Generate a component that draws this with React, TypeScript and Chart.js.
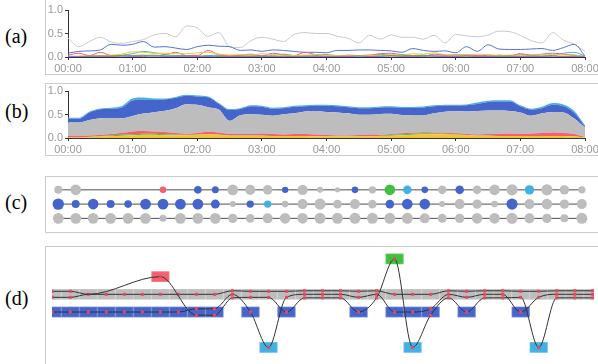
import React, { useEffect, useRef } from "react";
import { Chart, registerables } from "chart.js";
Chart.register(...registerables);

// ---------------- data ----------------
// time grid (minutes after 00:00)
const TIMES = [0, 10, 20, 30, 40, 50, 60, 70, 80, 90, 100, 110, 120, 130, 140, 150, 160, 170, 180, 190, 200, 210, 220, 230, 240, 250, 260, 270, 280, 290, 300, 310, 320, 330, 340, 350, 360, 370, 380, 390, 400, 410, 420, 430, 440, 450, 460, 470, 480];
const TIME_TICKS = [0, 60, 120, 180, 240, 300, 360, 420, 480];
const VALUE_TICKS = [0, 0.5, 1];

// (a) individual series
const A_GRAY = [0.40, 0.22, 0.33, 0.42, 0.32, 0.29, 0.33, 0.37, 0.47, 0.50, 0.43, 0.66, 0.62, 0.44, 0.52, 0.22, 0.20, 0.35, 0.42, 0.38, 0.33, 0.48, 0.52, 0.50, 0.50, 0.44, 0.40, 0.30, 0.46, 0.38, 0.47, 0.42, 0.42, 0.38, 0.46, 0.30, 0.48, 0.45, 0.43, 0.47, 0.55, 0.54, 0.46, 0.35, 0.30, 0.52, 0.36, 0.27, 0.12];
const A_BLUE = [0.08, 0.12, 0.13, 0.15, 0.27, 0.25, 0.27, 0.33, 0.21, 0.22, 0.19, 0.16, 0.22, 0.25, 0.23, 0.22, 0.14, 0.15, 0.12, 0.15, 0.14, 0.12, 0.10, 0.10, 0.09, 0.14, 0.14, 0.15, 0.15, 0.14, 0.13, 0.10, 0.18, 0.14, 0.12, 0.13, 0.09, 0.22, 0.12, 0.26, 0.17, 0.16, 0.16, 0.17, 0.18, 0.14, 0.20, 0.27, 0.02];
const A_RED = [0.04, 0.08, 0.03, 0.10, 0.03, 0.02, 0.03, 0.04, 0.02, 0.04, 0.10, 0.03, 0.03, 0.14, 0.05, 0.03, 0.04, 0.06, 0.02, 0.08, 0.05, 0.03, 0.10, 0.05, 0.04, 0.02, 0.04, 0.03, 0.04, 0.07, 0.08, 0.05, 0.03, 0.02, 0.06, 0.04, 0.03, 0.05, 0.03, 0.02, 0.04, 0.03, 0.07, 0.04, 0.06, 0.08, 0.06, 0.04, 0.01];
const A_YELLOW = [0.01, 0.02, 0.02, 0.03, 0.04, 0.06, 0.11, 0.10, 0.08, 0.08, 0.07, 0.07, 0.09, 0.10, 0.06, 0.04, 0.05, 0.04, 0.07, 0.05, 0.04, 0.03, 0.04, 0.05, 0.03, 0.03, 0.02, 0.03, 0.04, 0.03, 0.05, 0.04, 0.07, 0.06, 0.09, 0.05, 0.04, 0.05, 0.06, 0.05, 0.03, 0.04, 0.03, 0.04, 0.05, 0.06, 0.04, 0.04, 0.01];
const A_LIGHTBLUE = [0.02, 0.01, 0.02, 0.03, 0.02, 0.04, 0.07, 0.12, 0.09, 0.05, 0.03, 0.03, 0.02, 0.03, 0.04, 0.02, 0.02, 0.03, 0.02, 0.03, 0.06, 0.03, 0.02, 0.03, 0.05, 0.03, 0.02, 0.03, 0.02, 0.06, 0.03, 0.02, 0.03, 0.04, 0.02, 0.03, 0.05, 0.03, 0.02, 0.04, 0.03, 0.02, 0.05, 0.03, 0.04, 0.03, 0.08, 0.10, 0.02];
const A_GREEN = [0.00, 0.01, 0.01, 0.02, 0.02, 0.03, 0.02, 0.03, 0.04, 0.02, 0.02, 0.01, 0.01, 0.02, 0.01, 0.01, 0.02, 0.01, 0.01, 0.01, 0.02, 0.01, 0.01, 0.02, 0.01, 0.01, 0.01, 0.02, 0.01, 0.02, 0.03, 0.04, 0.02, 0.03, 0.02, 0.01, 0.01, 0.02, 0.01, 0.01, 0.02, 0.01, 0.01, 0.02, 0.01, 0.02, 0.01, 0.02, 0.00];
const A_PURPLE = [0.01, 0.01, 0.02, 0.01, 0.01, 0.02, 0.01, 0.01, 0.02, 0.01, 0.01, 0.02, 0.01, 0.01, 0.02, 0.01, 0.01, 0.01, 0.02, 0.01, 0.01, 0.01, 0.02, 0.01, 0.01, 0.01, 0.01, 0.02, 0.01, 0.01, 0.02, 0.01, 0.01, 0.01, 0.02, 0.01, 0.01, 0.02, 0.01, 0.01, 0.01, 0.02, 0.01, 0.01, 0.01, 0.02, 0.01, 0.01, 0.00];

// (b) stacked layers (thickness of each layer)
const B_YELLOW = [0.01, 0.01, 0.02, 0.03, 0.04, 0.05, 0.06, 0.07, 0.07, 0.06, 0.06, 0.06, 0.07, 0.08, 0.07, 0.05, 0.05, 0.05, 0.05, 0.04, 0.04, 0.04, 0.04, 0.03, 0.03, 0.03, 0.03, 0.03, 0.03, 0.04, 0.05, 0.06, 0.07, 0.08, 0.08, 0.08, 0.07, 0.06, 0.05, 0.05, 0.04, 0.04, 0.04, 0.04, 0.04, 0.04, 0.04, 0.03, 0.01];
const B_GREEN = [0, 0, 0.005, 0.01, 0.015, 0.02, 0.02, 0.02, 0.02, 0.02, 0.015, 0.01, 0.005, 0.005, 0.005, 0.005, 0.005, 0.005, 0.005, 0.005, 0.005, 0.005, 0.005, 0.005, 0.005, 0.005, 0.005, 0.005, 0.005, 0.01, 0.015, 0.02, 0.02, 0.02, 0.015, 0.01, 0.01, 0.005, 0.005, 0.005, 0.005, 0.005, 0.005, 0.005, 0.005, 0.005, 0.005, 0.005, 0];
const B_RED = [0.03, 0.04, 0.03, 0.03, 0.03, 0.04, 0.06, 0.06, 0.05, 0.05, 0.03, 0.02, 0.03, 0.05, 0.04, 0.03, 0.03, 0.03, 0.04, 0.04, 0.03, 0.04, 0.04, 0.04, 0.03, 0.02, 0.02, 0.03, 0.04, 0.02, 0.02, 0.02, 0.02, 0.02, 0.02, 0.02, 0.02, 0.02, 0.02, 0.03, 0.04, 0.05, 0.04, 0.05, 0.06, 0.07, 0.06, 0.05, 0.01];
const B_GRAY = [0.29, 0.28, 0.33, 0.35, 0.34, 0.31, 0.33, 0.37, 0.41, 0.45, 0.53, 0.63, 0.60, 0.52, 0.49, 0.28, 0.40, 0.42, 0.40, 0.39, 0.43, 0.44, 0.48, 0.50, 0.49, 0.49, 0.47, 0.43, 0.42, 0.44, 0.43, 0.39, 0.37, 0.36, 0.41, 0.45, 0.47, 0.48, 0.50, 0.50, 0.50, 0.48, 0.46, 0.38, 0.42, 0.44, 0.44, 0.33, 0.20];
const B_BLUE = [0.08, 0.08, 0.16, 0.19, 0.20, 0.23, 0.33, 0.30, 0.26, 0.24, 0.22, 0.18, 0.18, 0.21, 0.12, 0.23, 0.13, 0.17, 0.17, 0.15, 0.13, 0.14, 0.11, 0.11, 0.13, 0.13, 0.13, 0.14, 0.14, 0.14, 0.14, 0.15, 0.16, 0.17, 0.15, 0.13, 0.12, 0.13, 0.15, 0.18, 0.19, 0.20, 0.13, 0.13, 0.11, 0.15, 0.13, 0.12, 0.02];
const B_LIGHTBLUE = [0.02, 0.02, 0.02, 0.02, 0.02, 0.03, 0.04, 0.04, 0.03, 0.02, 0.02, 0.02, 0.02, 0.02, 0.02, 0.02, 0.02, 0.02, 0.02, 0.02, 0.02, 0.02, 0.02, 0.02, 0.02, 0.02, 0.02, 0.02, 0.02, 0.02, 0.02, 0.02, 0.02, 0.02, 0.02, 0.02, 0.02, 0.02, 0.03, 0.03, 0.03, 0.03, 0.02, 0.02, 0.03, 0.04, 0.04, 0.04, 0.03];

// (c)/(d) group membership of three characters per time step
// G gray, B blue, L light blue, R red, N green, - absent
const CHAR1_GROUPS = ["G", "G", "-", "-", "-", "-", "R", "-", "B", "B", "G", "G", "G", "B", "G", "G", "G", "B", "G", "N", "L", "B", "G", "B", "G", "G", "G", "L", "G", "G", "G"];
const CHAR2_GROUPS = ["B", "B", "B", "B", "B", "B", "B", "B", "B", "B", "G", "B", "L", "G", "G", "G", "G", "G", "G", "B", "B", "B", "G", "G", "G", "G", "B", "G", "G", "G", "G"];
const CHAR3_GROUPS = ["G", "G", "G", "G", "G", "G", "G", "G", "G", "G", "G", "G", "G", "G", "G", "G", "G", "G", "G", "G", "G", "G", "G", "G", "G", "G", "G", "G", "G", "G", "G"];
// (c) bubble magnitudes
const CHAR1_SIZE = [4, 5.3, null, null, null, null, 3.3, null, 3.8, 3.5, 5.4, 5.1, 4.8, 3.2, 5.2, 3, 2.6, 3.3, 3.7, 5.3, 4.3, 3.3, 4.3, 4.3, 4.3, 5.3, 5.6, 4.7, 5.6, 4.7, 3.7];
const CHAR2_SIZE = [5.7, 4, 5.3, 4, 3.8, 5.4, 5.4, 5.4, 5.4, 4.5, 3, 3.7, 3.7, 3.3, 5, 5.6, 4.3, 5, 4.3, 4.3, 5.3, 5.3, 3, 5, 4.7, 3.3, 5.6, 5, 5.3, 4.7, 5];
const CHAR3_SIZE = [5.4, 5.4, 5.4, 5.4, 5.4, 5.4, 3.5, 5.4, 5.4, 5.4, 4.7, 4.3, 5, 5.3, 5.3, 5.5, 5.5, 5.5, 5.5, 5.5, 5.5, 5, 4.5, 4.7, 5.3, 5.3, 5.6, 5, 4.7, 4, 5.5];
// (d) storyline levels (5 green, 4 red, 3 gray, 2 blue, 0 light blue)
const D_CHAR1 = [3.17, 3.17, 3.0, null, null, null, 4, null, 1.82, 1.82, 2.8, 2.83, 2.83, 2, 2.8, 2.8, 2.8, 2, 2.8, 5, 0, 1.82, 2.8, 2, 2.8, 2.8, 2.83, 0, 2.8, 2.8, 2.8];
const D_CHAR2 = [2, 2, 2, 2, 2, 2, 2, 2, 2.18, 2.18, 3.0, 2, 0, 2.83, 3.0, 3.0, 3.0, 2.83, 3.0, 2, 2, 2.18, 3.0, 2.83, 3.0, 3.0, 2, 2.83, 3.0, 3.0, 3.0];
const D_CHAR3 = [2.83, 2.83, 3, 3, 3, 3, 3, 3, 3, 3, 3.2, 3.17, 3.17, 3.17, 3.2, 3.2, 3.2, 3.17, 3.2, 3, 3, 3, 3.2, 3.17, 3.2, 3.2, 3.17, 3.17, 3.2, 3.2, 3.2];

// ---------------- styles ----------------
const FONT = "'Liberation Sans', Arial, sans-serif";
const TICK_COLOR = "#999999";
const AXIS_COLOR = "#333333";
const COL = {
  gray: "#bdbdbd",
  lineGray: "#c9c9c9",
  blue: "#4565cc",
  lightblue: "#41b1e3",
  red: "#f3606f",
  yellow: "#f6c433",
  green: "#40c040",
  purple: "#a46fd6",
};
const GROUP_COLOR: Record<string, string> = { G: COL.gray, B: COL.blue, L: COL.lightblue, R: COL.red, N: COL.green };
const GROUP_LEVEL: Record<string, number> = { N: 5, R: 4, G: 3, B: 2, L: 0 };

function fmtTime(v: any) {
  const h = Math.round(Number(v) / 60);
  return (h < 10 ? "0" : "") + h + ":00";
}

function timeScales(stacked: boolean) {
  const grid = { drawOnChartArea: false, drawTicks: true, tickLength: 3, color: AXIS_COLOR, lineWidth: 1 };
  const border = { display: true, color: AXIS_COLOR, width: 1 };
  const font = { family: FONT, size: 11 };
  return {
    x: {
      type: "linear",
      min: 0,
      max: 480,
      afterBuildTicks: (s: any) => { s.ticks = TIME_TICKS.map((v) => ({ value: v })); },
      ticks: { callback: fmtTime, color: TICK_COLOR, font, padding: 2, maxRotation: 0, autoSkip: false },
      grid,
      border,
      afterFit: (s: any) => { s.height = 17; s.paddingLeft = 0; s.paddingRight = 0; },
    },
    y: {
      type: "linear",
      min: 0,
      max: 1,
      stacked,
      afterBuildTicks: (s: any) => { s.ticks = VALUE_TICKS.map((v) => ({ value: v })); },
      ticks: { callback: (v: any) => Number(v).toFixed(1), color: TICK_COLOR, font, padding: 2 },
      grid,
      border,
      afterFit: (s: any) => { s.width = 22; s.paddingTop = 0; s.paddingBottom = 0; },
    },
  };
}

const baseOptions = {
  responsive: false,
  animation: false,
  devicePixelRatio: 1,
  events: [],
  plugins: { legend: { display: false }, tooltip: { enabled: false } },
};

function CanvasChart({ left, top, width, height, make }: any) {
  const ref = useRef<HTMLCanvasElement>(null);
  useEffect(() => {
    const chart = new Chart(ref.current as HTMLCanvasElement, make());
    return () => chart.destroy();
  }, []);
  return (
    <canvas
      ref={ref}
      width={width}
      height={height}
      style={{ position: "absolute", left, top, width, height, display: "block" }}
    />
  );
}

// ---- (a)
function makeA(): any {
  const series = [
    { v: A_PURPLE, c: COL.purple },
    { v: A_GREEN, c: COL.green },
    { v: A_YELLOW, c: COL.yellow },
    { v: A_RED, c: COL.red },
    { v: A_LIGHTBLUE, c: COL.lightblue },
    { v: A_BLUE, c: "#5273db" },
    { v: A_GRAY, c: COL.lineGray },
  ];
  return {
    type: "line",
    data: {
      datasets: series.map((s) => ({
        data: TIMES.map((t, i) => ({ x: t, y: s.v[i] })),
        borderColor: s.c,
        borderWidth: 1,
        pointRadius: 0,
        tension: 0.35,
        cubicInterpolationMode: "monotone",
        fill: false,
      })),
    },
    options: { ...baseOptions, layout: { padding: { top: 10, right: 13, left: 0, bottom: 0 } }, scales: timeScales(false) },
  };
}

// ---- (b)
function makeB(): any {
  const layers = [
    { v: B_YELLOW, c: COL.yellow },
    { v: B_GREEN, c: COL.green },
    { v: B_RED, c: COL.red },
    { v: B_GRAY, c: COL.gray },
    { v: B_BLUE, c: COL.blue },
    { v: B_LIGHTBLUE, c: COL.lightblue },
  ];
  return {
    type: "line",
    data: {
      datasets: layers.map((s, k) => ({
        data: TIMES.map((t, i) => ({ x: t, y: s.v[i] })),
        borderWidth: 0,
        borderColor: s.c,
        backgroundColor: s.c,
        pointRadius: 0,
        tension: 0.4,
        cubicInterpolationMode: "monotone",
        fill: k === 0 ? "origin" : "-1",
      })),
    },
    options: { ...baseOptions, layout: { padding: { top: 7, right: 13, left: 0, bottom: 0 } }, scales: timeScales(true) },
  };
}

// ---- (c)
function makeC(): any {
  const rows = [
    { g: CHAR1_GROUPS, s: CHAR1_SIZE, level: 2 },
    { g: CHAR2_GROUPS, s: CHAR2_SIZE, level: 1 },
    { g: CHAR3_GROUPS, s: CHAR3_SIZE, level: 0 },
  ];
  const bubbles = rows.map((r) => ({
    type: "bubble",
    data: r.g.map((g, i) => (g === "-" ? null : { x: i, y: r.level, r: r.s[i], g })).filter(Boolean),
    backgroundColor: (ctx: any) => (ctx.raw ? GROUP_COLOR[ctx.raw.g] : COL.gray),
    borderWidth: 0,
    order: 0,
  }));
  const lines = rows.map((r) => ({
    type: "line",
    data: r.g.map((g, i) => (g === "-" ? null : { x: i, y: r.level })).filter(Boolean),
    borderColor: "#4d4d4d",
    borderWidth: 1,
    pointRadius: 0,
    fill: false,
    order: 1,
  }));
  return {
    type: "bubble",
    data: { datasets: [...bubbles, ...lines] },
    options: {
      ...baseOptions,
      layout: { padding: 0 },
      scales: {
        x: { type: "linear", display: false, min: -0.376, max: 30.6 },
        y: { type: "linear", display: false, min: -0.556, max: 2.5 },
      },
    },
  };
}

// ---- (d)
const BOX_HALF = 0.3;
const groupBoxes = {
  id: "groupBoxes",
  beforeDatasetsDraw(chart: any) {
    const { ctx, chartArea, scales } = chart;
    const x = scales.x;
    const y = scales.y;
    const all = [CHAR1_GROUPS, CHAR2_GROUPS, CHAR3_GROUPS];
    ctx.save();
    ctx.beginPath();
    ctx.rect(chartArea.left, chartArea.top, chartArea.right - chartArea.left, chartArea.bottom - chartArea.top);
    ctx.clip();
    for (let c = 0; c < CHAR1_GROUPS.length; c++) {
      const present = Array.from(new Set(all.map((g) => g[c]).filter((g) => g !== "-")));
      for (const g of present) {
        const base = GROUP_LEVEL[g];
        const x0 = x.getPixelForValue(c - 0.5);
        const x1 = x.getPixelForValue(c + 0.5);
        const y0 = y.getPixelForValue(base + BOX_HALF);
        const y1 = y.getPixelForValue(base - BOX_HALF);
        ctx.fillStyle = GROUP_COLOR[g];
        ctx.fillRect(x0, y0, x1 - x0, y1 - y0);
        ctx.strokeStyle = "rgba(255,255,255,0.12)";
        ctx.lineWidth = 1;
        ctx.strokeRect(x0 + 0.5, y0 + 0.5, x1 - x0 - 1, y1 - y0 - 1);
      }
    }
    ctx.restore();
  },
};

function makeD(): any {
  const chars = [
    { lv: D_CHAR1, g: CHAR1_GROUPS },
    { lv: D_CHAR2, g: CHAR2_GROUPS },
    { lv: D_CHAR3, g: CHAR3_GROUPS },
  ];
  return {
    type: "line",
    data: {
      datasets: chars.map((ch) => ({
        data: ch.lv.map((v, i) => ({ x: i, y: v })),
        borderColor: "#333333",
        borderWidth: 1,
        cubicInterpolationMode: "monotone",
        tension: 0.4,
        spanGaps: true,
        fill: false,
        pointStyle: "rect",
        pointRadius: ch.g.map((g) => (g === "-" ? 0 : 2.1)),
        pointBackgroundColor: "#e8485c",
        pointBorderWidth: 0,
      })),
    },
    options: {
      ...baseOptions,
      layout: { padding: 0 },
      scales: {
        x: { type: "linear", display: false, min: -0.0164, max: 30.07 },
        y: { type: "linear", display: false, min: -0.71, max: 5.447 },
      },
    },
    plugins: [groupBoxes],
  };
}

const boxStyle = (top: number, height: number): React.CSSProperties => ({
  position: "absolute",
  left: 45,
  top,
  width: 560,
  height,
  border: "1px solid #cccccc",
  boxSizing: "border-box",
});

const labelStyle = (top: number): React.CSSProperties => ({
  position: "absolute",
  left: 5,
  top,
  fontFamily: "'Liberation Serif', 'Times New Roman', serif",
  fontSize: 20,
  lineHeight: "20px",
  color: "#000",
});

export default function App() {
  return (
    <div style={{ position: "absolute", left: 0, top: 0, width: 598, height: 364, overflow: "hidden", background: "#fff" }}>
      <div style={boxStyle(-1, 76)} />
      <div style={boxStyle(83, 73)} />
      <div style={boxStyle(176, 57)} />
      <div style={boxStyle(246, 200)} />
      <div style={labelStyle(26)}>(a)</div>
      <div style={labelStyle(101)}>(b)</div>
      <div style={labelStyle(192)}>(c)</div>
      <div style={labelStyle(288)}>(d)</div>
      <CanvasChart left={46} top={0} width={552} height={74} make={makeA} />
      <CanvasChart left={46} top={84} width={552} height={71} make={makeB} />
      <CanvasChart left={46} top={177} width={552} height={55} make={makeC} />
      <CanvasChart left={48} top={247} width={550} height={117} make={makeD} />
    </div>
  );
}
